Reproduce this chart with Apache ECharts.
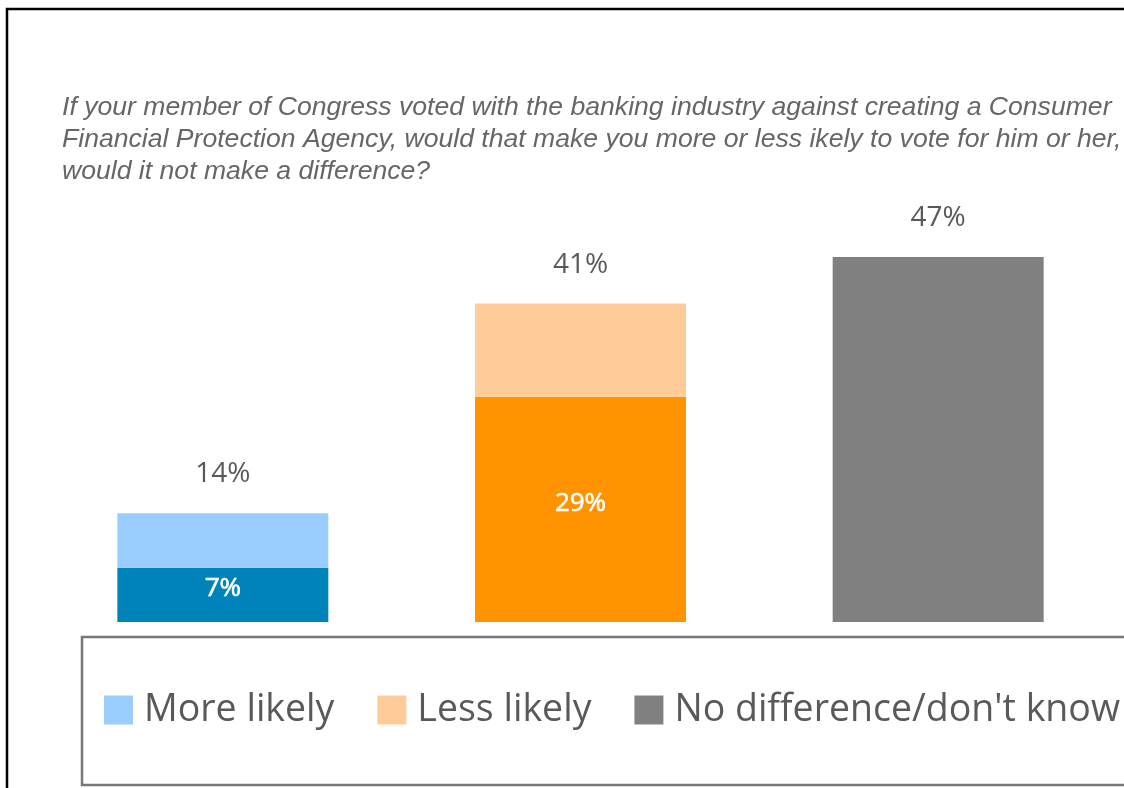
<!DOCTYPE html>
<html>
<head>
<meta charset="utf-8">
<script src="https://cdn.jsdelivr.net/npm/echarts@6/dist/echarts.min.js"></script>
<style>
  html, body { margin: 0; padding: 0; background: #fff; }
  #chart { width: 1124px; height: 788px; }
</style>
</head>
<body>
<div id="chart"></div>
<script>
const categories = ['More likely', 'Less likely', 'No difference']
const strongValues = [7, 29, null]
const totals = [14, 41, 47]
const seriesNames = ['More likely', 'Less likely', "No difference/don't know"]
const lightColors = ['#99CCFF', '#FFCC99', '#808080']
const darkColors = ['#0083B9', '#FF9400', '#808080']

const titleText = 'If your member of Congress voted with the banking industry against creating a Consumer\n' +
  'Financial Protection Agency, would that make you more or less ikely to vote for him or her, or\n' +
  'would it not make a difference?'

const chart = echarts.init(document.getElementById('chart'))

// light part of each bar = total minus the dark base segment
const lightSeries = seriesNames.map((name, i) => ({
  name,
  type: 'bar',
  stack: 'all',
  barWidth: 211,
  itemStyle: { color: lightColors[i] },
  data: categories.map((c, j) => (j === i ? totals[j] - (strongValues[j] || 0) : null)),
  label: {
    show: true,
    position: 'top',
    distance: 25,
    fontSize: 28,
    fontFamily: 'Open Sans',
    color: '#595959',
    formatter: p => totals[p.dataIndex] + '%'
  }
}))

chart.setOption({
  animation: false,
  title: {
    text: titleText,
    left: 62,
    top: 92,
    padding: 0,
    textStyle: {
      fontFamily: 'Liberation Sans',
      fontStyle: 'italic',
      fontWeight: 'normal',
      fontSize: 26.6,
      lineHeight: 32,
      color: '#666666'
    }
  },
  graphic: [
    {
      type: 'rect',
      shape: { x: 7, y: 9, width: 1300, height: 900 },
      style: { fill: 'none', stroke: '#000', lineWidth: 2.5 },
      silent: true
    },
    {
      type: 'rect',
      shape: { x: 82, y: 637, width: 1200, height: 148 },
      style: { fill: 'none', stroke: '#777', lineWidth: 2.5 },
      silent: true
    }
  ],
  legend: {
    data: seriesNames,
    left: 104,
    top: 691,
    padding: 0,
    icon: 'rect',
    itemWidth: 29,
    itemHeight: 29,
    itemGap: 43,
    textStyle: {
      fontFamily: 'Open Sans',
      fontSize: 37.5,
      color: '#595959',
      padding: [0, 0, 0, 6]
    }
  },
  grid: { left: 44, right: 7, top: 156, bottom: 166 },
  xAxis: {
    type: 'category',
    data: categories,
    show: false
  },
  yAxis: {
    type: 'value',
    min: 0,
    max: 60,
    show: false
  },
  series: [
    {
      name: 'base',
      type: 'bar',
      stack: 'all',
      barWidth: 211,
      data: strongValues.map((v, i) => ({ value: v, itemStyle: { color: darkColors[i] } })),
      label: {
        show: true,
        position: 'inside',
        offset: [0, -6],
        fontSize: 26,
        fontFamily: 'Open Sans',
        color: '#fff',
        textBorderColor: '#fff',
        textBorderWidth: 0.6,
        formatter: p => (p.value == null ? '' : p.value + '%')
      }
    },
    ...lightSeries
  ]
})
</script>
</body>
</html>
